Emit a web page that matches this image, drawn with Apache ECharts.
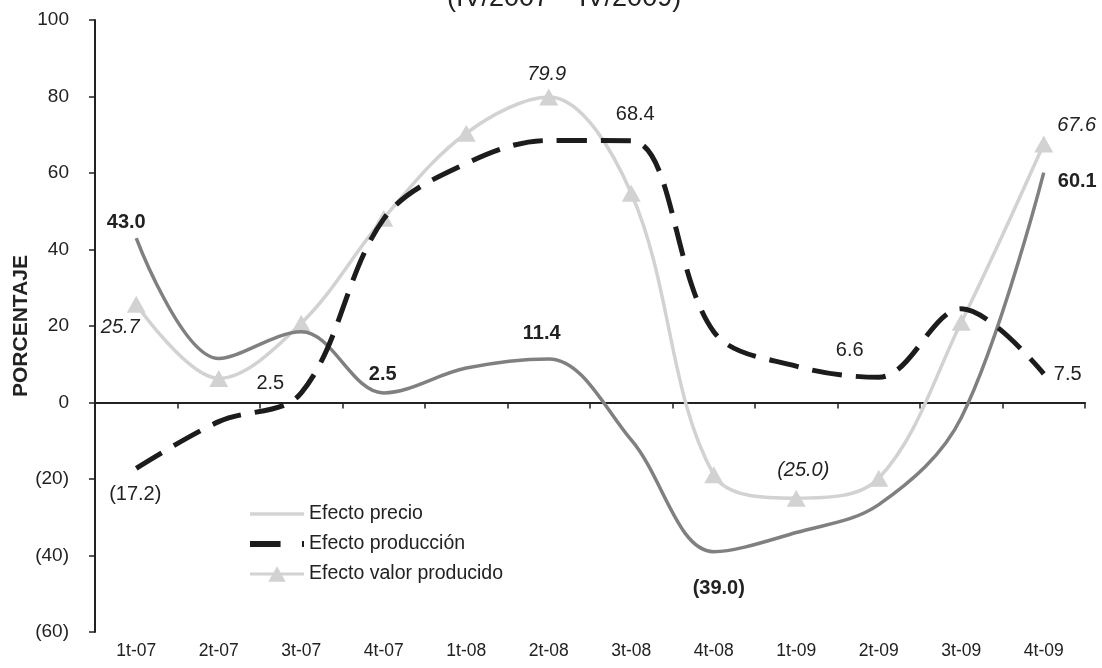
<!DOCTYPE html>
<html>
<head>
<meta charset="utf-8">
<title>Efectos precio y producción</title>
<script src="https://cdn.jsdelivr.net/npm/echarts@6/dist/echarts.min.js"></script>
<style>
    html, body { margin: 0; padding: 0; background: #fff; }
    #chart { width: 1102px; height: 668px; }
</style>
</head>
<body>
<div id="chart"></div>
<script>
// 季度标签
const quarters = ['1t-07', '2t-07', '3t-07', '4t-07', '1t-08', '2t-08', '3t-08', '4t-08', '1t-09', '2t-09', '3t-09', '4t-09'];

// 各系列数值
const efectoPrecio = [43.0, 11.5, 18.5, 2.5, 9.0, 11.4, -9.8, -39.0, -34.0, -26.7, -4.0, 60.1];
const efectoProduccion = [-17.2, -5.0, 2.5, 48.0, 62.5, 68.5, 68.4, 18.5, 9.5, 6.6, 24.5, 7.5];
const efectoValor = [25.7, 6.3, 20.7, 48.2, 70.4, 79.9, 54.7, -18.9, -25.0, -19.8, 21.0, 67.6];

// y轴刻度
const yMin = -60;
const yMax = 100;
const yStep = 20;

const FONT = "'Liberation Sans', Arial, sans-serif";

// 负数用括号表示
function fmt(v) {
    const s = Math.abs(v).toFixed(1);
    return v < 0 ? '(' + s + ')' : s;
}

// 只给部分点加标签
function withLabels(values, labels, baseLabel) {
    return values.map((v, i) => {
        const l = labels[i];
        if (!l) return v;
        return {
            value: v,
            label: Object.assign({ show: true, formatter: fmt(v) }, baseLabel, l)
        };
    });
}

const precioLabels = {
    0: { position: 'top', distance: 6, offset: [-10, 0] },
    3: { position: 'top', distance: 8, offset: [-1, 0] },
    5: { position: 'top', distance: 15, offset: [-7, 0] },
    7: { position: 'bottom', distance: 27, offset: [5, 0] },
    11: { position: 'right', distance: 14, offset: [0, 9] }
};
const produccionLabels = {
    0: { position: 'bottom', distance: 16, offset: [-1, 0] },
    2: { position: 'left', distance: 5, offset: [-12, -9] },
    6: { position: 'top', distance: 16, offset: [4, 0] },
    9: { position: 'top', distance: 6, offset: [-29, -11] },
    11: { position: 'right', distance: 10, offset: [0, 1] }
};
const valorLabels = {
    0: { position: 'bottom', distance: 5, offset: [-16, 0] },
    5: { position: 'top', distance: 4, offset: [-2, 0] },
    8: { position: 'top', distance: 9, offset: [7, 0] },
    11: { position: 'right', distance: 4, offset: [0, -18] }
};

// 图例图标
const iconLine = 'path://M0,0 H56 V3.5 H0 Z';
const iconDash = 'path://M0,0 H30 V6 H0 Z M51,0 H53 V6 H51 Z';
const iconTri = 'path://M0,6.5 H56 V9.5 H0 Z M28,0 L37,16 L19,16 Z';

const chart = echarts.init(document.getElementById('chart'));

const option = {
    animation: false,
    backgroundColor: '#fff',
    textStyle: { fontFamily: FONT },
    title: {
        text: '(IV/2007 – IV/2009)',
        left: 442,
        top: -20,
        textStyle: { fontFamily: FONT, fontSize: 27, fontWeight: 'normal', color: '#222' }
    },
    legend: {
        orient: 'vertical',
        left: 245,
        top: 499,
        itemWidth: 54,
        itemHeight: 16,
        itemGap: 10,
        textStyle: { fontFamily: FONT, fontSize: 19.5, color: '#222' },
        data: [
            { name: 'Efecto precio', icon: iconLine, itemStyle: { color: '#d4d4d4' } },
            { name: 'Efecto producción', icon: iconDash, itemStyle: { color: '#1c1c1c' } },
            { name: 'Efecto valor producido', icon: iconTri, itemStyle: { color: '#d2d2d2' } }
        ]
    },
    grid: { left: 95, right: 17, top: 20, bottom: 36, outerBoundsMode: 'none', containLabel: false },
    xAxis: [
        {
            // 0 线上的轴线与刻度
            type: 'category',
            data: quarters,
            boundaryGap: true,
            axisLine: { onZero: true, lineStyle: { color: '#222', width: 2 } },
            axisTick: { show: true, length: 6, lineStyle: { color: '#222', width: 1.5 } },
            axisLabel: { show: false },
            splitLine: { show: false }
        },
        {
            // 底部的季度标签
            type: 'category',
            data: quarters,
            position: 'bottom',
            boundaryGap: true,
            axisLine: { show: false, onZero: false },
            axisTick: { show: false },
            axisLabel: { margin: 10, fontFamily: FONT, fontSize: 17.5, color: '#222' },
            splitLine: { show: false }
        }
    ],
    yAxis: {
        type: 'value',
        min: yMin,
        max: yMax,
        interval: yStep,
        name: 'PORCENTAJE',
        nameLocation: 'middle',
        nameGap: 63,
        nameRotate: 90,
        nameMoveOverlap: false,
        nameTextStyle: { fontFamily: FONT, fontSize: 21, fontWeight: 'bold', color: '#222' },
        axisLine: { show: true, lineStyle: { color: '#222', width: 2 } },
        axisTick: { show: true, length: 6, lineStyle: { color: '#222', width: 1.5 } },
        axisLabel: {
            margin: 26,
            fontFamily: FONT,
            fontSize: 19,
            color: '#222',
            formatter: v => v < 0 ? '(' + Math.abs(v) + ')' : String(v)
        },
        splitLine: { show: false }
    },
    series: [
        {
            name: 'Efecto precio',
            type: 'line',
            smooth: 0.35,
            symbol: 'circle',
            symbolSize: 0.01,
            z: 3,
            data: withLabels(efectoPrecio, precioLabels,
                { fontFamily: FONT, fontSize: 20, fontWeight: 'bold', color: '#222' }),
            lineStyle: { color: '#808080', width: 3.5 },
            itemStyle: { color: '#808080' }
        },
        {
            name: 'Efecto producción',
            type: 'line',
            smooth: 0.35,
            symbol: 'circle',
            symbolSize: 0.01,
            z: 4,
            data: withLabels(efectoProduccion, produccionLabels,
                { fontFamily: FONT, fontSize: 20, color: '#222' }),
            lineStyle: { color: '#1c1c1c', width: 5, type: [30, 14], cap: 'butt' },
            itemStyle: { color: '#1c1c1c' }
        },
        {
            name: 'Efecto valor producido',
            type: 'line',
            smooth: 0.35,
            symbol: 'triangle',
            symbolSize: [19, 17],
            showAllSymbol: true,
            z: 2,
            data: withLabels(efectoValor, valorLabels,
                { fontFamily: FONT, fontSize: 20, fontStyle: 'italic', color: '#222' }),
            lineStyle: { color: '#d2d2d2', width: 3.5 },
            itemStyle: { color: '#d2d2d2' }
        }
    ]
};

chart.setOption(option);
</script>
</body>
</html>
